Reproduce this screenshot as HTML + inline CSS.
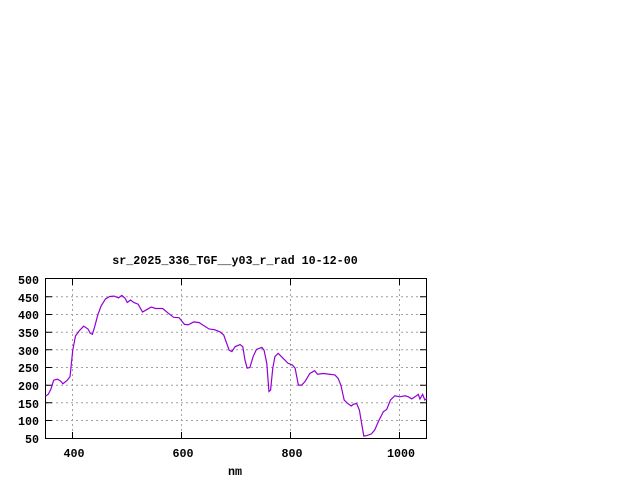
<!DOCTYPE html>
<html><head><style>body{margin:0;background:#fff}svg{display:block}text{font-family:"Liberation Mono",monospace;font-weight:bold;font-size:11.7px;fill:#000}</style></head><body>
<svg width="640" height="480" xmlns="http://www.w3.org/2000/svg">
<rect width="640" height="480" fill="#fff"/>
<g stroke="#a0a0a0" stroke-dasharray="2,3" stroke-width="1">
<line x1="72.5" y1="279" x2="72.5" y2="438"/><line x1="181.5" y1="279" x2="181.5" y2="438"/><line x1="290.5" y1="279" x2="290.5" y2="438"/><line x1="399.5" y1="279" x2="399.5" y2="438"/>
<line x1="46" y1="296.8" x2="426" y2="296.8"/><line x1="46" y1="314.5" x2="426" y2="314.5"/><line x1="46" y1="332.2" x2="426" y2="332.2"/><line x1="46" y1="349.8" x2="426" y2="349.8"/><line x1="46" y1="367.5" x2="426" y2="367.5"/><line x1="46" y1="385.2" x2="426" y2="385.2"/><line x1="46" y1="402.8" x2="426" y2="402.8"/><line x1="46" y1="420.5" x2="426" y2="420.5"/>
</g>
<g stroke="#000" stroke-width="1">
<path d="M72.5 438v-6M181.5 438v-6M290.5 438v-6M399.5 438v-6M72.5 279v6M181.5 279v6M290.5 279v6M399.5 279v6"/>
<path d="M46 296.8h6M46 314.5h6M46 332.2h6M46 349.8h6M46 367.5h6M46 385.2h6M46 402.8h6M46 420.5h6M426 296.8h-6M426 314.5h-6M426 332.2h-6M426 349.8h-6M426 367.5h-6M426 385.2h-6M426 402.8h-6M426 420.5h-6"/>
<rect x="45.5" y="278.5" width="381" height="160" fill="none"/>
</g>
<polyline fill="none" stroke="#9400d3" stroke-width="1.2" vector-effect="non-scaling-stroke" transform="matrix(0.545 0 0 -0.3533 -145.25 456.17)" points="350,170 355,175 360,190 365,215 372,218 378,212 382,205 390,215 395,225 400,300 405,340 412,355 420,368 428,360 432,348 436,345 440,365 446,400 452,425 460,445 468,452 476,453 484,448 490,455 496,447 500,435 506,442 512,435 520,430 528,408 536,415 544,422 552,418 565,418 575,405 585,393 595,392 605,373 612,372 622,380 632,378 640,370 650,360 660,358 670,352 677,343 687,300 692,296 698,310 707,316 712,310 716,272 720,249 725,251 731,282 737,302 747,308 751,300 756,263 760,183 763,187 767,249 771,282 777,291 786,277 795,263 803,258 808,249 814,201 820,201 826,211 835,234 844,242 849,232 860,234 881,230 887,220 892,201 898,159 903,151 911,142 915,147 921,149 926,130 930,93 934,57 939,58 948,63 954,74 962,102 970,126 976,132 983,159 991,171 1000,168 1010,171 1016,168 1022,162 1028,168 1034,175 1037,162 1042,175 1046,159 1050,164"/>
<g text-anchor="end">
<text x="39" y="284">500</text><text x="39" y="302">450</text><text x="39" y="319">400</text><text x="39" y="337">350</text><text x="39" y="355">300</text><text x="39" y="372">250</text><text x="39" y="390">200</text><text x="39" y="408">150</text><text x="39" y="425">100</text><text x="39" y="443">50</text>
</g>
<g text-anchor="middle">
<text x="74" y="457">400</text><text x="183" y="457">600</text><text x="292" y="457">800</text><text x="401" y="457">1000</text>
<text x="235" y="475">nm</text>
<text x="235" y="264">sr_2025_336_TGF__y03_r_rad 10-12-00</text>
</g>
</svg>
</body></html>
